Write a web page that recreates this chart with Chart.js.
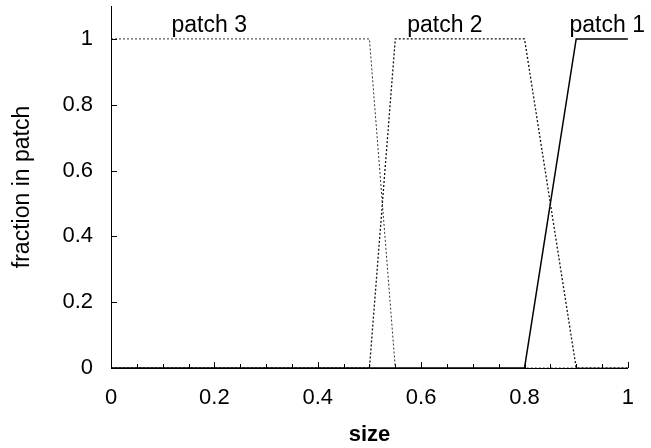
<!DOCTYPE html>
<html>
<head>
<meta charset="utf-8">
<script src="https://cdn.jsdelivr.net/npm/chart.js@4"></script>
<style>
  html, body { margin: 0; padding: 0; background: #fff; }
  #wrap { width: 651px; height: 448px; }
</style>
</head>
<body>
<div id="wrap"><canvas id="chart"></canvas></div>
<script>
// size values where the lines bend
const sizes = [0, 0.5, 0.55, 0.8, 0.9, 1];
// fraction in each patch at those sizes
const patch3 = [1, 1, 0, 0, 0, 0];
const patch2 = [0, 0, 1, 1, 0, 0];
const patch1 = [0, 0, 0, 0, 1, 1];

const xTicks = [0, 0.2, 0.4, 0.6, 0.8, 1];
const yTicks = [0, 0.2, 0.4, 0.6, 0.8, 1];
const xMinorTicks = [0.05, 0.1, 0.15, 0.25, 0.3, 0.35, 0.45, 0.5, 0.55, 0.65, 0.7, 0.75, 0.85, 0.9, 0.95];

// line labels: text, x, y (in data units)
const labelText = ['patch 3', 'patch 2', 'patch 1'];
const labelX = [0.19, 0.646, 0.96];
const labelY = [1.02, 1.02, 1.02];

const toPoints = ys => sizes.map((x, i) => ({ x: x, y: ys[i] }));

// inward ticks + line labels
const extras = {
  id: 'extras',
  afterDraw(chart) {
    const ctx = chart.ctx;
    const xs = chart.scales.x, ys = chart.scales.y;
    const y0 = ys.getPixelForValue(0), x0 = xs.getPixelForValue(0);
    ctx.save();
    ctx.strokeStyle = '#000';
    ctx.lineWidth = 1;
    ctx.beginPath();
    xTicks.forEach(v => {
      const px = Math.round(xs.getPixelForValue(v)) + 0.5;
      ctx.moveTo(px, y0); ctx.lineTo(px, y0 - 6);
    });
    xMinorTicks.forEach(v => {
      const px = Math.round(xs.getPixelForValue(v)) + 0.5;
      ctx.moveTo(px, y0); ctx.lineTo(px, y0 - 4);
    });
    yTicks.forEach(v => {
      const py = Math.round(ys.getPixelForValue(v)) + 0.5;
      ctx.moveTo(x0, py); ctx.lineTo(x0 + 6, py);
    });
    ctx.stroke();

    ctx.fillStyle = '#000';
    ctx.font = '23px "Liberation Sans", Arial, sans-serif';
    ctx.textAlign = 'center';
    ctx.textBaseline = 'alphabetic';
    labelText.forEach((t, i) => {
      ctx.fillText(t, xs.getPixelForValue(labelX[i]), ys.getPixelForValue(labelY[i]));
    });
    ctx.restore();
  }
};

const tickFont = { family: '"Liberation Sans", Arial, sans-serif', size: 22 };

new Chart(document.getElementById('chart'), {
  type: 'line',
  data: {
    datasets: [
      {
        label: 'patch 3',
        data: toPoints(patch3),
        borderColor: '#333',
        borderWidth: 1,
        borderDash: [2, 2],
        pointRadius: 0,
        tension: 0
      },
      {
        label: 'patch 2',
        data: toPoints(patch2),
        borderColor: '#111',
        borderWidth: 1.3,
        borderDash: [2, 2],
        pointRadius: 0,
        tension: 0
      },
      {
        label: 'patch 1',
        data: toPoints(patch1),
        borderColor: '#000',
        borderWidth: 1.5,
        pointRadius: 0,
        tension: 0
      }
    ]
  },
  options: {
    responsive: true,
    maintainAspectRatio: false,
    animation: false,
    layout: { padding: { left: 0, right: 23, top: 6, bottom: 0 } },
    plugins: {
      legend: { display: false },
      tooltip: { enabled: false }
    },
    scales: {
      x: {
        type: 'linear',
        min: 0,
        max: 1,
        afterBuildTicks: s => { s.ticks = xTicks.map(v => ({ value: v })); },
        afterFit: s => { s.height = 80; },
        grid: { display: false, drawTicks: false },
        border: { display: true, color: '#000', width: 1 },
        ticks: {
          color: '#000',
          font: tickFont,
          padding: 17,
          maxRotation: 0,
          callback: v => String(v)
        },
        title: {
          display: true,
          text: 'size',
          color: '#000',
          font: { family: '"Liberation Sans", Arial, sans-serif', size: 22, weight: 'bold' },
          padding: { top: 0, bottom: 0 }
        }
      },
      y: {
        min: 0,
        max: 1.1,
        afterBuildTicks: s => { s.ticks = yTicks.map(v => ({ value: v })); },
        afterFit: s => { s.width = 111; s.paddingTop = 0; s.paddingBottom = 0; },
        grid: { display: false, drawTicks: false },
        border: { display: true, color: '#000', width: 1 },
        ticks: {
          color: '#000',
          font: tickFont,
          padding: 18,
          callback: v => String(v)
        },
        title: {
          display: true,
          text: 'fraction in patch',
          color: '#000',
          font: { family: '"Liberation Sans", Arial, sans-serif', size: 23 },
          padding: { top: 9, bottom: 0 }
        }
      }
    }
  },
  plugins: [extras]
});
</script>
</body>
</html>
